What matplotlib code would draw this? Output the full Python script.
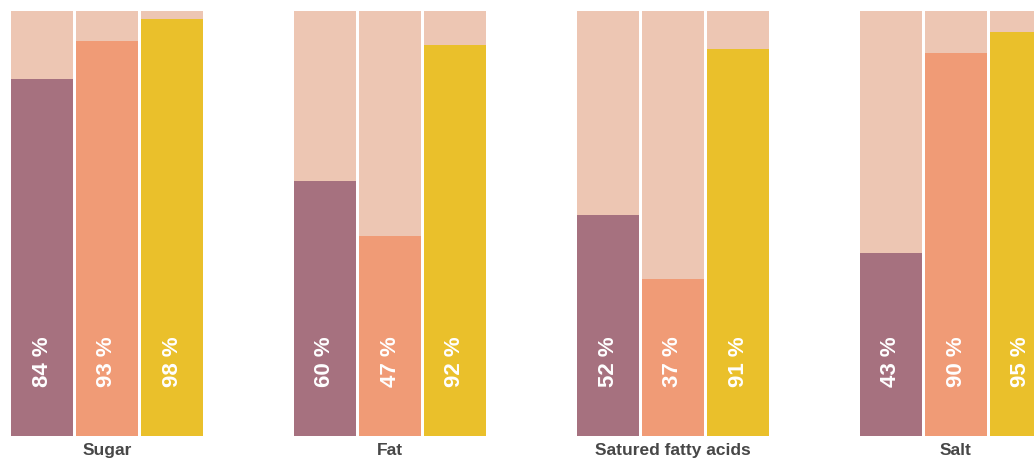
import matplotlib
matplotlib.use("Agg")
import matplotlib.pyplot as plt
import numpy as np

categories = ["Sugar", "Fat", "Satured fatty acids", "Salt"]
series_a = [84, 60, 52, 43]
series_b = [93, 47, 37, 90]
series_c = [98, 92, 91, 95]

COLORS = ["#a6717f", "#f09b76", "#eac02b"]
BG = "#edc6b3"

W, H = 1034, 461
fig = plt.figure(figsize=(W / 100, H / 100), dpi=100)
ax = fig.add_axes([0, 25 / H, 1, 425 / H])

group_step = 283 / 65
bar_w = 62 / 65
ax.set_xlim(-0.5 * bar_w - 11 / 65, -0.5 * bar_w - 11 / 65 + W / 65)
ax.set_ylim(0, 100)
ax.axis("off")

for g, cat in enumerate(categories):
    vals = [series_a[g], series_b[g], series_c[g]]
    for i, v in enumerate(vals):
        x = g * group_step + i
        ax.bar(x, 100, width=bar_w, color=BG, linewidth=0)
        ax.bar(x, v, width=bar_w, color=COLORS[i], linewidth=0)
        ax.text(x, 17.4, f"{v} %", rotation=90, ha="center", va="center",
                color="white", fontsize=16, fontweight="bold", family="Liberation Sans")
    ax.text(g * group_step + 1, -3.3, cat, ha="center", va="center",
            color="#474747", fontsize=12.5, fontweight="bold", family="Liberation Sans",
            clip_on=False)

fig.savefig("out.png", dpi=100, facecolor="white")
